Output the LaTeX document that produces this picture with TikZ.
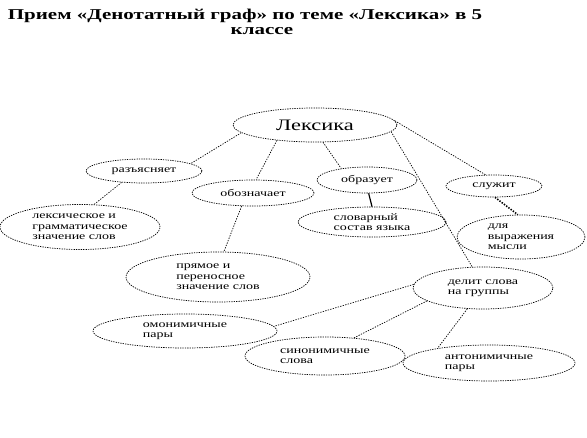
\documentclass[tikz,border=0pt]{standalone}
\usepackage{fontspec}
\setmainfont{Liberation Serif}[FakeStretch=1.4]
\usetikzlibrary{shapes.geometric}

\tikzset{
  oval/.style={draw, ellipse, inner sep=0pt, line width=0.7pt,
    dash pattern=on 1.3pt off 1.1pt, align=left,
    font=\fontsize{10}{10.5}\selectfont},
  link/.style={line width=0.7pt, dash pattern=on 1.3pt off 1.3pt},
}

\begin{document}
\begin{tikzpicture}[x=1pt, y=-1pt]
            \useasboundingbox (0,0) rectangle (587,438);

            % title
            \node[font=\fontsize{15}{15}\bfseries\selectfont] (title1) at (245,16)
              {Прием «Денотатный граф» по теме «Лексика» в 5};
            \node[font=\fontsize{15}{15}\bfseries\selectfont] (title2) at (262,31) {классе};

            % ovals
            \node[oval, minimum width=164, minimum height=34,
              font=\fontsize{16}{18}\selectfont] (lex) at (315,125) {Лексика};
            \node[oval, minimum width=116, minimum height=24] (raz) at (144,171) {разъясняет};
            \node[oval, minimum width=122, minimum height=26] (oboz) at (253,193) {обозначает};
            \node[oval, minimum width=100, minimum height=26] (obraz) at (367,180) {образует};
            \node[oval, minimum width=96, minimum height=22] (sluzh) at (494,186) {служит};

            \node[oval, minimum width=160, minimum height=45] (gram) at (80,227)
              {лексическое и\\грамматическое\\значение слов};
            \node[oval, minimum width=148, minimum height=30] (slovar) at (372,222)
              {словарный\\состав языка};
            \node[oval, minimum width=128, minimum height=44] (mysl) at (521,237)
              {для\\выражения\\мысли};
            \node[oval, minimum width=184, minimum height=50] (pryam) at (218,277)
              {прямое и\\переносное\\значение слов};
            \node[oval, minimum width=140, minimum height=42] (delit) at (483,288)
              {делит слова\\на группы};

            \node[oval, minimum width=184, minimum height=34] (omon) at (185,331)
              {омонимичные\\пары};
            \node[oval, minimum width=160, minimum height=38] (sinon) at (325,356)
              {синонимичные\\слова};
            \node[oval, minimum width=172, minimum height=36] (anton) at (489,363)
              {антонимичные\\пары};

            % links
            \draw[link] (lex.186) -- (raz.9);
            \draw[link] (lex.202) -- (oboz.77);
            \draw[link] (lex.295) -- (obraz.156);
            \draw[link] (lex.3) -- (sluzh.127);
            \draw[link] (lex.355) -- (delit.117);

            \draw[link] (raz.207) -- (gram.58);
            \draw[link] (oboz.229) -- (pryam.77);
            \draw[line width=1.2pt] (obraz.277) -- (slovar.90);
            \draw[line width=1.6pt, dash pattern=on 1.4pt off 1.4pt] (sluzh.275) -- (mysl.98);

            \draw[link] (delit.177) -- (omon.3);
            \draw[link] (delit.193) -- (sinon.32);
            \draw[link] (delit.233) -- (anton.164);
        \end{tikzpicture}
\end{document}
